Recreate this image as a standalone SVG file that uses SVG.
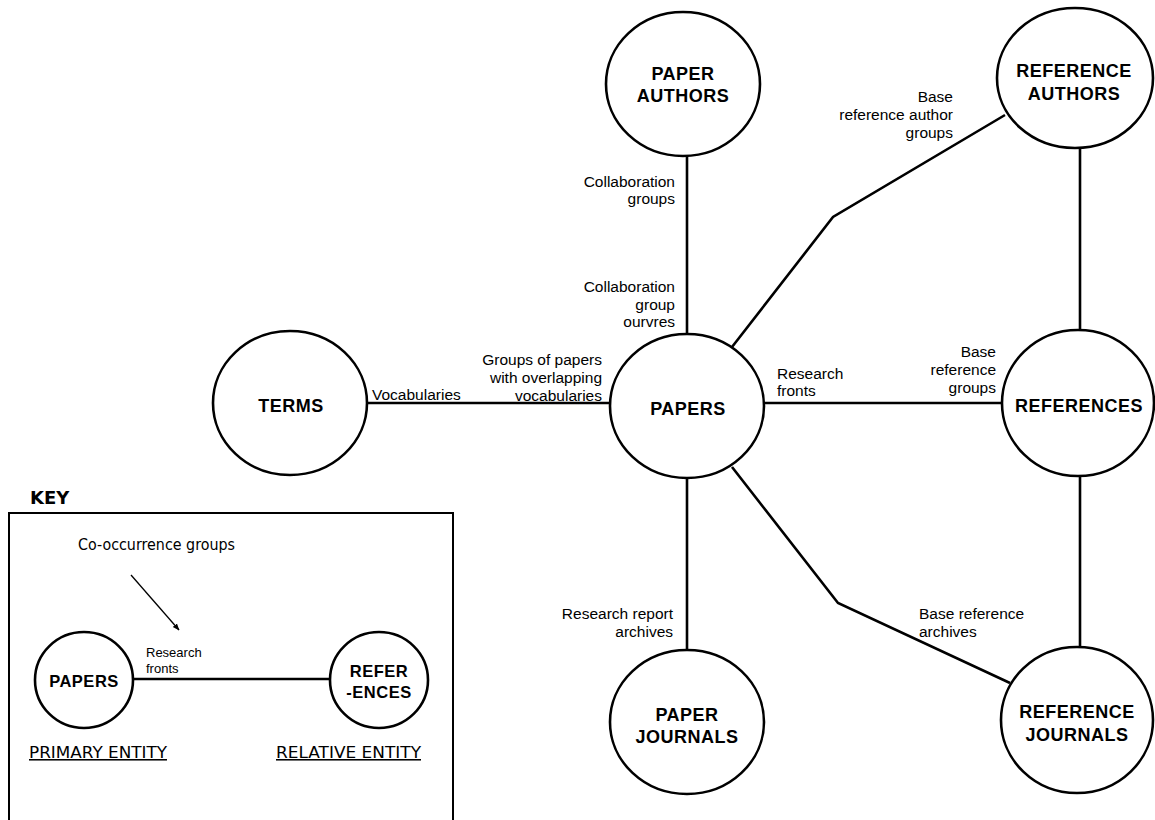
<svg xmlns="http://www.w3.org/2000/svg" width="1155" height="820" viewBox="0 0 1155 820">
  <style>
    .node ellipse { fill: #fff; stroke: #000; stroke-width: 2.6; }
    .node text { font-family: "Liberation Sans", Arial, sans-serif; font-weight: bold; font-size: 18px; letter-spacing: 0.5px; text-anchor: middle; fill: #000; }
    .conn { fill: none; stroke: #000; stroke-width: 2.6; stroke-linejoin: miter; }
    .lbl { font-family: "Liberation Sans", Arial, sans-serif; font-size: 15.5px; fill: #000; }
    .r { text-anchor: end; }
    .hand { font-family: "DejaVu Sans", sans-serif; font-size: 15.5px; fill: #000; }
    .key-node text { font-size: 16.5px; }
  </style>
  <defs>
    <marker id="arrow" viewBox="0 0 10 10" refX="9" refY="5" markerWidth="7" markerHeight="7" orient="auto" markerUnits="userSpaceOnUse">
      <path d="M0,1 L10,5 L0,9 Z" fill="#000"/>
    </marker>
  </defs>

  <rect width="1155" height="820" fill="#fff"/>

  <!-- links between entities -->
  <g id="connectors">
    <path class="conn" d="M687 155 V335"/>
    <path class="conn" d="M367 403 H611"/>
    <path class="conn" d="M763 403 H1003"/>
    <path class="conn" d="M1080 147 V331"/>
    <path class="conn" d="M1080 475 V648"/>
    <path class="conn" d="M687 477 V651"/>
    <path class="conn" d="M732 347 L833 217 L1005 115"/>
    <path class="conn" d="M732 467 L838 603 L1010 683"/>
  </g>

  <!-- link labels -->
  <g id="labels">
    <text class="lbl r" x="675" y="187">Collaboration</text>
    <text class="lbl r" x="675" y="204">groups</text>
    <text class="lbl r" x="675" y="292">Collaboration</text>
    <text class="lbl r" x="675" y="310">group</text>
    <text class="lbl r" x="675" y="327">ourvres</text>
    <text class="lbl r" x="602" y="365">Groups of papers</text>
    <text class="lbl r" x="602" y="383">with overlapping</text>
    <text class="lbl r" x="602" y="401">vocabularies</text>
    <text class="lbl" x="372" y="400">Vocabularies</text>
    <text class="lbl" x="777" y="379">Research</text>
    <text class="lbl" x="777" y="396">fronts</text>
    <text class="lbl r" x="953" y="102">Base</text>
    <text class="lbl r" x="953" y="120">reference author</text>
    <text class="lbl r" x="953" y="138">groups</text>
    <text class="lbl r" x="996" y="357">Base</text>
    <text class="lbl r" x="996" y="375">reference</text>
    <text class="lbl r" x="996" y="393">groups</text>
    <text class="lbl r" x="673" y="619">Research report</text>
    <text class="lbl r" x="673" y="637">archives</text>
    <text class="lbl" x="919" y="619">Base reference</text>
    <text class="lbl" x="919" y="637">archives</text>
  </g>

  <g id="paper-authors" class="node">
    <ellipse cx="683" cy="84" rx="77" ry="72"/>
    <text x="683" y="80">PAPER</text>
    <text x="683" y="102">AUTHORS</text>
  </g>
  <g id="reference-authors" class="node">
    <ellipse cx="1075" cy="78" rx="78" ry="70"/>
    <text x="1074" y="77">REFERENCE</text>
    <text x="1074" y="100">AUTHORS</text>
  </g>
  <g id="terms" class="node">
    <ellipse cx="290" cy="403" rx="77" ry="72"/>
    <text x="291" y="412">TERMS</text>
  </g>
  <g id="papers" class="node">
    <ellipse cx="687" cy="406" rx="77" ry="72"/>
    <text x="688" y="415">PAPERS</text>
  </g>
  <g id="references" class="node">
    <ellipse cx="1078" cy="403" rx="76" ry="73"/>
    <text x="1079" y="412">REFERENCES</text>
  </g>
  <g id="paper-journals" class="node">
    <ellipse cx="687" cy="722" rx="77" ry="72"/>
    <text x="687" y="721">PAPER</text>
    <text x="687" y="743">JOURNALS</text>
  </g>
  <g id="reference-journals" class="node">
    <ellipse cx="1077" cy="720" rx="76" ry="73"/>
    <text x="1077" y="718">REFERENCE</text>
    <text x="1077" y="741">JOURNALS</text>
  </g>

  <!-- legend -->
  <g id="key">
    <text x="30" y="504" font-family="'DejaVu Sans', sans-serif" font-weight="900" font-size="18">KEY</text>
    <rect x="9" y="513" width="444" height="330" fill="none" stroke="#000" stroke-width="2"/>
    <text class="hand" x="78" y="550" textLength="157" lengthAdjust="spacingAndGlyphs">Co-occurrence groups</text>
    <line x1="131" y1="575" x2="179" y2="630" stroke="#000" stroke-width="1.3" marker-end="url(#arrow)"/>
    <line x1="133" y1="679" x2="330" y2="679" stroke="#000" stroke-width="2.6"/>
    <g id="key-papers" class="node key-node">
      <ellipse cx="84" cy="680" rx="49" ry="48"/>
      <text x="84" y="687">PAPERS</text>
    </g>
    <g id="key-references" class="node key-node">
      <ellipse cx="379" cy="680" rx="49" ry="48"/>
      <text x="379" y="677">REFER</text>
      <text x="379" y="698">-ENCES</text>
    </g>
    <text x="146" y="657" font-family="'Liberation Sans', Arial, sans-serif" font-size="13">Research</text>
    <text x="146" y="673" font-family="'Liberation Sans', Arial, sans-serif" font-size="13">fronts</text>
    <text class="hand" x="29" y="758" textLength="138" lengthAdjust="spacingAndGlyphs" text-decoration="underline">PRIMARY ENTITY</text>
    <text class="hand" x="276" y="758" textLength="145" lengthAdjust="spacingAndGlyphs" text-decoration="underline">RELATIVE ENTITY</text>
  </g>
</svg>
